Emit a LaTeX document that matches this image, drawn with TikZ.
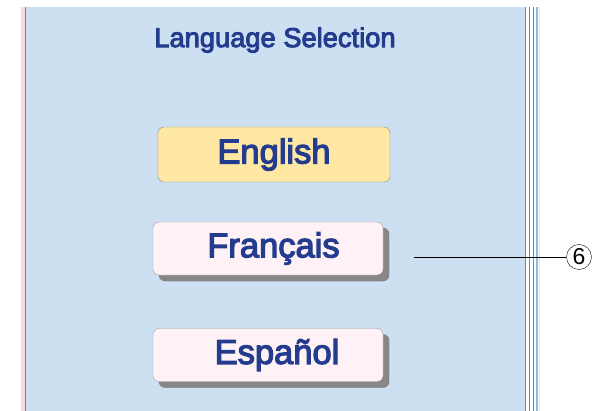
\documentclass[tikz,border=0pt]{standalone}
\usepackage{fontspec}
\setmainfont{Liberation Sans}
\newfontfamily\uifont[FakeBold=3.5]{Liberation Sans}
\usepackage{xcolor}
\usepackage{tikz}
\usetikzlibrary{shadows}
\usetikzlibrary{positioning}
\definecolor{panelblue}{HTML}{CCE0F2}
\definecolor{textblue}{HTML}{243C8E}
\definecolor{selyellow}{HTML}{FFE8A3}
\definecolor{btnpink}{HTML}{FFF2F6}
\definecolor{edgecyan}{HTML}{1EA5DC}
\definecolor{edgelight}{HTML}{85BDEA}
\definecolor{edgepink}{HTML}{F9D7E5}
\tikzstyle{button}=[rectangle,rounded corners=6pt,draw=black!38,fill=btnpink,minimum width=230pt,minimum height=53pt,inner sep=0pt]
\tikzstyle{pressed}=[button,drop shadow={shadow xshift=6pt,shadow yshift=-6pt,fill=black!47,draw=black!55,opacity=1}]
\tikzstyle{selected}=[button,fill=selyellow,draw=black!45,minimum width=232pt,minimum height=55pt]
\tikzstyle{btntext}=[text=textblue,font=\uifont\fontsize{34.5}{38}\selectfont]
\tikzstyle{callout}=[circle,draw,thin,fill=white,minimum size=25pt,inner sep=0pt,font=\fontsize{23}{26}\selectfont]

\begin{document}
\begin{tikzpicture}[x=1pt,y=-1pt]

 \useasboundingbox (0,0) rectangle (596,411);

 %panel
 \fill[edgepink] (21,7) rectangle (25,411);
 \fill[panelblue] (25,7) rectangle (525,411);
 \draw[edgecyan, line width=1pt] (25,7) -- (25,411);
 \foreach \x in {525,529.3,533.3}
   \draw[edgecyan, line width=1pt] (\x,7) -- (\x,411);
 \draw[edgelight, line width=2pt] (536.7,7) -- (536.7,411);
 \draw[edgepink, line width=1pt] (539,7) -- (539,411);

 %title
 \node[text=textblue,font=\uifont\fontsize{27.3}{30}\selectfont] (title) at (275,40) {Language Selection};

 %buttons
 \node[selected, label={[btntext]center:English}] (en) at (274,154.5) {};

 \foreach \y/\name/\dx/\label in {248.5/fr/5.5/Français, 355/es/9/Español}
   \node[pressed, label={[btntext,xshift=\dx pt]center:\label}] (\name) at (268,\y) {};

 %callout 6
 \coordinate (tip) at (414,257);
 \node[callout] (c6) at (579,257) {6};
 \draw (tip) -- (c6);

\end{tikzpicture}
\end{document}
